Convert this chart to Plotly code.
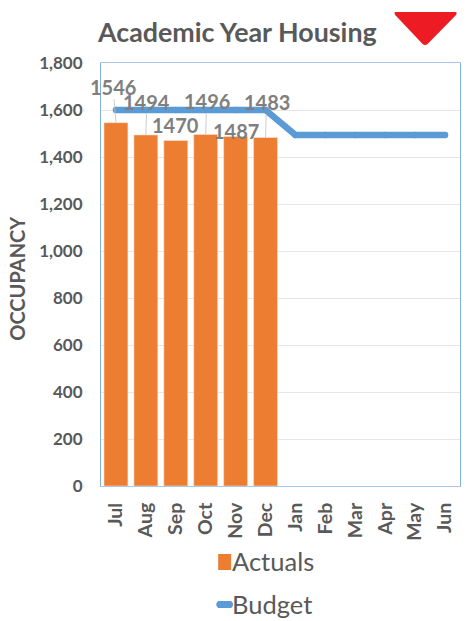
import plotly.graph_objects as go

months = ["Jul", "Aug", "Sep", "Oct", "Nov", "Dec", "Jan", "Feb", "Mar", "Apr", "May", "Jun"]
actuals = [1546, 1494, 1470, 1496, 1487, 1483]
budget = [1600, 1600, 1600, 1600, 1600, 1600, 1494, 1494, 1494, 1494, 1494, 1494]
y_ticks = [0, 200, 400, 600, 800, 1000, 1200, 1400, 1600, 1800]

# Pixel offsets of each value label from the top of its bar
label_offsets = {"Jul": (-3, -36), "Aug": (1, -33), "Sep": (0, -16), "Oct": (1, -33), "Nov": (0, -6), "Dec": (1, -36)}
leader_months = {"Jul", "Aug", "Oct", "Dec"}

ORANGE = "#ED7D31"
BLUE = "#5B9BD5"
TEXT = "#595959"
LABEL = "#7F7F7F"
FONT = "Lato, 'Open Sans', sans-serif"
W, H = 466, 621
L, R, T, B = 100.5, 5.5, 63, 135


# Paper coordinates span the plot area, so page pixels are converted relative to it
def px(x):
    return (x - L) / (W - L - R)


def py(y):
    return 1 - (y - T) / (H - T - B)


fig = go.Figure()
fig.add_bar(x=months[:len(actuals)], y=actuals, name="Actuals",
            marker=dict(color=ORANGE, line=dict(color="#F8E3D4", width=0.6)))
# Same-sized markers round off the line ends
fig.add_scatter(x=months, y=budget, name="Budget", mode="lines+markers",
                line=dict(color=BLUE, width=6.5, shape="linear"),
                marker=dict(color=BLUE, size=6.5, symbol="circle"))

annotations = []
for month, value in zip(months, actuals):
    dx, dy = label_offsets[month]
    annotations.append(dict(
        x=month, y=value, xref="x", yref="y", text=str(value),
        showarrow=True, arrowhead=0, arrowwidth=0.8,
        arrowcolor="#BFBFBF" if month in leader_months else "rgba(0,0,0,0)",
        ax=dx, ay=dy, standoff=0, borderpad=0,
        font=dict(family=FONT, size=20, color=LABEL, weight="bold"),
    ))

# Title, axis caption and legend text
annotations += [
    dict(x=px(236.5), y=py(32), xref="paper", yref="paper", text="Academic Year Housing",
         xanchor="center", yanchor="middle", showarrow=False,
         font=dict(family=FONT, size=26.8, color=TEXT, weight="bold")),
    dict(x=px(16), y=py(278), xref="paper", yref="paper", text="OCCUPANCY", textangle=-90,
         xanchor="center", yanchor="middle", showarrow=False,
         font=dict(family=FONT, size=20, color=TEXT, weight="bold")),
    dict(x=px(230), y=py(561), xref="paper", yref="paper", text="Actuals",
         xanchor="left", yanchor="middle", showarrow=False,
         font=dict(family=FONT, size=25.5, color=TEXT)),
    dict(x=px(230), y=py(604), xref="paper", yref="paper", text="Budget",
         xanchor="left", yanchor="middle", showarrow=False,
         font=dict(family=FONT, size=25.5, color=TEXT)),
]

shapes = [
    # Status indicator beside the title
    dict(type="path", xref="paper", yref="paper", fillcolor="#ED1C24", line=dict(width=0),
         path=(f"M {px(396)} {py(12)} L {px(456)} {py(12)} "
               f"Q {px(458)} {py(12)} {px(456.5)} {py(15)} "
               f"L {px(428)} {py(44)} Q {px(425.5)} {py(46)} {px(423)} {py(44)} "
               f"L {px(395.5)} {py(15)} Q {px(394)} {py(12)} {px(396)} {py(12)} Z")),
    # Legend keys
    dict(type="rect", xref="paper", yref="paper", x0=px(218), x1=px(231), y0=py(570), y1=py(554),
         fillcolor=ORANGE, line=dict(width=0)),
    dict(type="path", xref="paper", yref="paper", fillcolor=BLUE, line=dict(width=0),
         path=(f"M {px(218)} {py(601)} L {px(231)} {py(601)} "
               f"Q {px(235)} {py(604.5)} {px(231)} {py(608)} "
               f"L {px(218)} {py(608)} Q {px(214)} {py(604.5)} {px(218)} {py(601)} Z")),
]

fig.update_layout(
    width=W, height=H, autosize=False,
    margin=dict(l=L, r=R, t=T, b=B),
    paper_bgcolor="white", plot_bgcolor="white",
    showlegend=False, bargap=0.2,
    annotations=annotations, shapes=shapes,
    font=dict(family=FONT, color=TEXT),
)
fig.update_xaxes(
    categoryorder="array", categoryarray=months, range=[-0.5, 11.5], tickangle=-90, ticks="",
    tickfont=dict(family=FONT, size=19.5, color=TEXT, weight="bold"), ticklabelstandoff=8,
    showgrid=False, showline=True, linecolor="#A9C8E8", linewidth=1, mirror=True,
)
fig.update_yaxes(
    range=[0, 1800], tickvals=y_ticks, tickformat=",d", ticks="",
    tickfont=dict(family=FONT, size=17, color=TEXT, weight="bold"), ticklabelstandoff=14,
    showgrid=True, gridcolor="#E6E6E6", gridwidth=1, zeroline=False,
    showline=True, linecolor="#7FB1E0", linewidth=1, mirror=True,
)

fig.write_html("out.html", config=dict(displayModeBar=False))
